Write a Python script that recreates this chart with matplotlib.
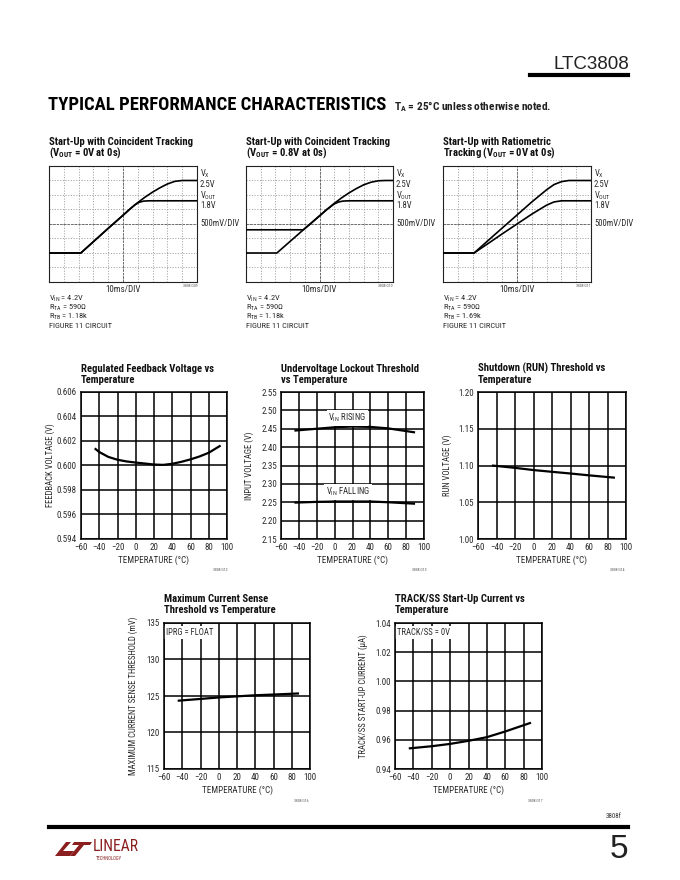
import matplotlib
matplotlib.use('Agg')
import matplotlib.pyplot as plt
from matplotlib import font_manager
from matplotlib.patches import Polygon
from matplotlib.lines import Line2D
from matplotlib.ticker import FormatStrFormatter
import numpy as np

W, H = 680, 880

# ------------------------------------------------------------------ data
# scope captures: time (ms) / volts, 10ms/DIV, 500mV/DIV
s1_t_vx = [0, 21.5, 30, 40, 50, 55, 60, 65, 70, 75, 80, 85, 90, 100]
s1_vx = [0, 0, 0.39, 0.85, 1.30, 1.53, 1.74, 1.93, 2.10, 2.25, 2.38, 2.47, 2.50, 2.50]
s1_t_vout = [0, 21.5, 30, 40, 50, 55, 58, 61, 64, 68, 100]
s1_vout = [0, 0, 0.39, 0.85, 1.30, 1.53, 1.66, 1.75, 1.79, 1.80, 1.80]

s2_t_vx = [0, 21, 30, 39, 45, 50, 55, 60, 65, 70, 75, 80, 85, 90, 95, 100]
s2_vx = [0, 0, 0.40, 0.80, 1.06, 1.28, 1.50, 1.71, 1.90, 2.07, 2.22, 2.35, 2.44, 2.49, 2.50, 2.50]
s2_t_vout = [0, 39, 45, 50, 55, 60, 63, 66, 70, 100]
s2_vout = [0.80, 0.80, 1.06, 1.28, 1.50, 1.69, 1.76, 1.79, 1.80, 1.80]

s3_t_vx = [0, 21, 30, 40, 50, 60, 70, 75, 80, 85, 100]
s3_vx = [0, 0, 0.41, 0.86, 1.31, 1.76, 2.18, 2.36, 2.46, 2.50, 2.50]
s3_t_vout = [0, 21, 30, 40, 50, 60, 70, 75, 80, 100]
s3_vout = [0, 0, 0.31, 0.66, 1.00, 1.34, 1.65, 1.76, 1.80, 1.80]

scope_conditions = [
    [r'V$_{IN}$ = 4.2V', r'R$_{TA}$ = 590Ω', r'R$_{TB}$ = 1.18k', 'FIGURE 11 CIRCUIT'],
    [r'V$_{IN}$ = 4.2V', r'R$_{TA}$ = 590Ω', r'R$_{TB}$ = 1.18k', 'FIGURE 11 CIRCUIT'],
    [r'V$_{IN}$ = 4.2V', r'R$_{TA}$ = 590Ω', r'R$_{TB}$ = 1.69k', 'FIGURE 11 CIRCUIT'],
]
scope_titles = [
    ['Start-Up with Coincident Tracking', r'(V$_{OUT}$ = 0V at 0s)'],
    ['Start-Up with Coincident Tracking', r'(V$_{OUT}$ = 0.8V at 0s)'],
    ['Start-Up with Ratiometric', r'Tracking (V$_{OUT}$ = 0V at 0s)'],
]
scope_codes = ['3808 G09', '3808 G10', '3808 G11']

# temperature characteristics
fb_temp = [-45, -40, -30, -20, -10, 0, 10, 20, 30, 40, 50, 60, 70, 80, 93]
fb_volt = [0.6014, 0.6011, 0.6007, 0.60047, 0.60033, 0.60024, 0.60016, 0.60008,
           0.60005, 0.60014, 0.60030, 0.60050, 0.60074, 0.60104, 0.60163]

uv_temp = [-45, -20, 0, 20, 40, 60, 90]
uv_rising = [2.445, 2.450, 2.454, 2.456, 2.455, 2.451, 2.440]
uv_falling = [2.249, 2.251, 2.252, 2.252, 2.252, 2.250, 2.246]

run_temp = [-45, -20, 0, 20, 40, 60, 88]
run_volt = [1.1000, 1.0968, 1.0938, 1.0914, 1.0891, 1.0866, 1.0834]

cs_temp = [-45, -20, 0, 20, 40, 60, 88]
cs_mv = [124.35, 124.60, 124.80, 124.95, 125.10, 125.20, 125.35]

ss_temp = [-45, -20, 0, 20, 40, 60, 88]
ss_ua = [0.9541, 0.9556, 0.9572, 0.9593, 0.9618, 0.9657, 0.9717]

temp_ticks = [-60, -40, -20, 0, 20, 40, 60, 80, 100]

# ------------------------------------------------------------------ fonts
avail = {f.name for f in font_manager.fontManager.ttflist}


def pick(cands):
    for c in cands:
        if c in avail:
            return c
    return 'DejaVu Sans'


NARROW = pick(['Liberation Sans Narrow', 'DejaVu Sans Condensed', 'Roboto Condensed',
               'Open Sans Condensed', 'Liberation Sans'])
PLAIN = pick(['Liberation Sans', 'Arimo', 'DejaVu Sans'])

plt.rcParams['font.family'] = [NARROW, 'DejaVu Sans']
plt.rcParams['mathtext.fontset'] = 'custom'
plt.rcParams['mathtext.rm'] = NARROW
plt.rcParams['mathtext.it'] = NARROW
plt.rcParams['mathtext.bf'] = NARROW
plt.rcParams['mathtext.default'] = 'regular'

fig = plt.figure(figsize=(W / 100, H / 100), dpi=100)
fig.patch.set_facecolor('white')
renderer = fig.canvas.get_renderer()


def box(x0, y0, x1, y1):
    return [x0 / W, 1 - y1 / H, (x1 - x0) / W, (y1 - y0) / H]


def ftext(x, y, s, **kw):
    kw.setdefault('va', 'baseline')
    return fig.text(x / W, 1 - y / H, s, **kw)


def fit_width(t, target):
    w = t.get_window_extent(renderer=renderer).width
    t.set_fontsize(t.get_fontsize() * target / w)
    return t.get_fontsize()


TXT = '#2b2b2b'

# ------------------------------------------------------------------ page header / footer
ltc = ftext(629, 69, 'LTC3808', ha='right', fontsize=14, family=PLAIN, color='#222')
fit_width(ltc, 76)
fig.add_artist(Line2D([530 / W, 628 / W], [1 - 75 / H, 1 - 75 / H], color='black', lw=3.0))

ttl = ftext(48, 110, 'TYPICAL PERFORMANCE CHARACTERISTICS', fontsize=14,
            weight='bold', color='black')
fit_width(ttl, 340)
note = ftext(394, 110, r'T$_A$ = 25°C unless otherwise noted.', fontsize=8,
             weight='bold', color='#222')
fit_width(note, 158)

fig.add_artist(Line2D([49 / W, 628 / W], [1 - 827 / H, 1 - 827 / H], color='black', lw=3.0))
ftext(622, 818, '3808f', ha='right', fontsize=5, color='#333')
pg = ftext(628, 858, '5', ha='right', fontsize=24, family=PLAIN, color='#222')

# Linear Technology logo
LOGO = '#8b1e1e'
logo_L = [(55, 856), (70, 856), (74, 851), (63, 851), (71, 842), (66, 842)]
logo_T = [(74, 842), (92, 842), (90, 845), (84, 845), (75, 856), (70, 856), (79, 845), (72, 845)]
for poly in (logo_L, logo_T):
    fig.add_artist(Polygon([(px / W, 1 - py / H) for px, py in poly], closed=True,
                           facecolor=LOGO, edgecolor='none', transform=fig.transFigure))
lin = ftext(93, 851, 'LINEAR', fontsize=10, color=LOGO)
fit_width(lin, 46)
ftext(96, 860, 'TECHNOLOGY', fontsize=3.4, color=LOGO)

# ------------------------------------------------------------------ titles size calibration
probe = ftext(0, 0, scope_titles[0][0], fontsize=8, weight='bold')
TS = fit_width(probe, 144)
probe.remove()

# ------------------------------------------------------------------ scope panels
scope_rects = [(49, 166, 197, 282), (246, 166, 393, 282), (443, 166, 591, 282)]
scope_data = [
    (s1_t_vx, s1_vx, s1_t_vout, s1_vout),
    (s2_t_vx, s2_vx, s2_t_vout, s2_vout),
    (s3_t_vx, s3_vx, s3_t_vout, s3_vout),
]

for rect, (tx, vx, tv, vo), titles, conds, code in zip(scope_rects, scope_data, scope_titles,
                                                      scope_conditions, scope_codes):
    x0, y0, x1, y1 = rect
    ax = fig.add_axes(box(*rect))
    ax.set_xlim(0, 100)
    ax.set_ylim(-1.0, 3.0)
    ax.set_xticks(np.arange(0, 101, 10))
    ax.set_yticks(np.arange(-1.0, 3.01, 0.5))
    ax.grid(True, color='#8f8f8f', lw=0.55, ls=(0, (1.5, 2.0)))
    ax.set_axisbelow(True)
    ax.axvline(50, color='#6a6a6a', lw=0.7, ls=(0, (2.5, 1.2)), zorder=1)
    ax.axhline(1.0, color='#6a6a6a', lw=0.7, ls=(0, (2.5, 1.2)), zorder=1)
    ax.tick_params(length=0, labelbottom=False, labelleft=False)
    for sp in ax.spines.values():
        sp.set_linewidth(0.8)
        sp.set_color('#222')
    ax.plot(tx, vx, color='black', lw=1.2, zorder=3)
    ax.plot(tv, vo, color='black', lw=1.2, zorder=3)

    ftext(x0, 145, titles[0], fontsize=TS, weight='bold', color='#111')
    ftext(x0, 156, titles[1], fontsize=TS, weight='bold', color='#111')

    ftext(x1 + 3, 177, r'V$_X$', fontsize=6.2, color=TXT)
    ftext(x1 + 3, 187, '2.5V', fontsize=6.2, color=TXT)
    ftext(x1 + 3, 199, r'V$_{OUT}$', fontsize=6.2, color=TXT)
    ftext(x1 + 3, 208, '1.8V', fontsize=6.2, color=TXT)
    ftext(x1 + 3, 226, '500mV/DIV', fontsize=6.2, color=TXT)
    ftext((x0 + x1) / 2, 292, '10ms/DIV', fontsize=6.5, ha='center', color=TXT)
    ftext(x1, 287, code, fontsize=2.8, ha='right', color='#555')
    for i, c in enumerate(conds):
        ftext(x0, 301 + 9 * i, c, fontsize=6.0, color=TXT)


# ------------------------------------------------------------------ temperature charts
def tchart(rect, ylim, ystep, yfmt, ylabel, curves, code, titles, ylab_off, title_y):
    x0, y0, x1, y1 = rect
    ax = fig.add_axes(box(*rect))
    ax.set_xlim(-60, 100)
    ax.set_ylim(*ylim)
    ax.set_xticks(temp_ticks)
    ax.set_yticks(np.arange(ylim[0], ylim[1] + ystep / 2, ystep))
    ax.yaxis.set_major_formatter(FormatStrFormatter(yfmt))
    ax.grid(True, color='black', lw=1.1)
    ax.set_axisbelow(True)
    ax.tick_params(length=0, labelsize=6.5, labelcolor=TXT, pad=3)
    for sp in ax.spines.values():
        sp.set_linewidth(1.1)
    for cx, cy in curves:
        ax.plot(cx, cy, color='black', lw=1.6, zorder=2, solid_capstyle='butt')
    ax.set_xlabel('TEMPERATURE (°C)', fontsize=6.5, color=TXT, labelpad=2.5)
    ax.set_ylabel(ylabel, fontsize=6.2, color=TXT)
    ax.yaxis.set_label_coords(-ylab_off / (x1 - x0), 0.5)
    ftext(x0, title_y, titles[0], fontsize=TS, weight='bold', color='#111')
    ftext(x0, title_y + 11, titles[1], fontsize=TS, weight='bold', color='#111')
    return ax


ax_fb = tchart((81, 392, 227, 539), (0.594, 0.606), 0.002, '%.3f', 'FEEDBACK VOLTAGE (V)',
               [(fb_temp, fb_volt)], '3808 G12',
               ['Regulated Feedback Voltage vs', 'Temperature'], 26, 372)
ftext(228, 571, '3808 G12', fontsize=2.8, ha='right', color='#555')

ax_uv = tchart((281, 392, 424, 539), (2.15, 2.55), 0.05, '%.2f', 'INPUT VOLTAGE (V)',
               [(uv_temp, uv_rising), (uv_temp, uv_falling)], '3808 G13',
               ['Undervoltage Lockout Threshold', 'vs Temperature'], 27, 372)
ax_uv.text(14, 2.479, r'V$_{IN}$ RISING', fontsize=6.3, color=TXT, ha='center', va='center',
           zorder=2.2, bbox=dict(facecolor='white', edgecolor='none', pad=1.0))
ax_uv.text(15, 2.278, r'V$_{IN}$ FALLING', fontsize=6.3, color=TXT, ha='center', va='center',
           zorder=2.2, bbox=dict(facecolor='white', edgecolor='none', pad=1.0))
ftext(427, 571, '3808 G13', fontsize=2.8, ha='right', color='#555')

ax_run = tchart((478, 392, 626, 539), (1.00, 1.20), 0.05, '%.2f', 'RUN VOLTAGE (V)',
                [(run_temp, run_volt)], '3808 G14',
                ['Shutdown (RUN) Threshold vs', 'Temperature'], 26, 372)
ftext(625, 571, '3808 G14', fontsize=2.8, ha='right', color='#555')

ax_cs = tchart((164, 623, 310, 769), (115, 135), 5, '%d',
               'MAXIMUM CURRENT SENSE THRESHOLD (mV)',
               [(cs_temp, cs_mv)], '3808 G16',
               ['Maximum Current Sense', 'Threshold vs Temperature'], 26, 602)
ax_cs.text(-58, 134.3, 'IPRG = FLOAT', fontsize=6.2, color=TXT, ha='left', va='top',
           zorder=2.2, bbox=dict(facecolor='white', edgecolor='none', pad=1.2))
ftext(309, 802, '3808 G16', fontsize=2.8, ha='right', color='#555')

ax_ss = tchart((395, 623, 542, 769), (0.94, 1.04), 0.02, '%.2f',
               'TRACK/SS START-UP CURRENT (µA)',
               [(ss_temp, ss_ua)], '3808 G17',
               ['TRACK/SS Start-Up Current vs', 'Temperature'], 27, 602)
ax_ss.text(-58, 1.0365, 'TRACK/SS = 0V', fontsize=6.2, color=TXT, ha='left', va='top',
           zorder=2.2, bbox=dict(facecolor='white', edgecolor='none', pad=1.2))
ftext(542, 802, '3808 G17', fontsize=2.8, ha='right', color='#555')

fig.savefig('out.png', dpi=100, facecolor='white')
